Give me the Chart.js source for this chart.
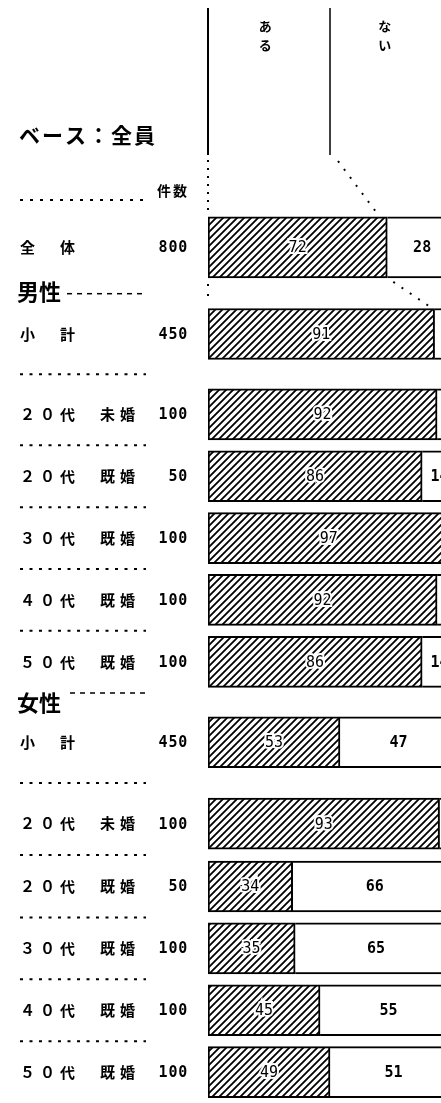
<!DOCTYPE html>
<html lang="ja">
<head>
<meta charset="utf-8">
<script src="https://cdn.jsdelivr.net/npm/chart.js@4"></script>
<style>
  html, body { margin: 0; padding: 0; overflow: hidden; background: #fff; }
  #wrap { position: relative; width: 470px; height: 1103px; }
</style>
</head>
<body>
<div id="wrap"><canvas id="chart"></canvas></div>
<script>
const rowLabels = ['全　体', '小　計', '２０代　未婚', '２０代　既婚', '３０代　既婚', '４０代　既婚', '５０代　既婚',
  '小　計', '２０代　未婚', '２０代　既婚', '３０代　既婚', '４０代　既婚', '５０代　既婚'];
const baseCounts = [800, 450, 100, 50, 100, 100, 100, 450, 100, 50, 100, 100, 100];
const aruValues = [72, 91, 92, 86, 97, 92, 86, 53, 93, 34, 35, 45, 49]; // ある
const naiValues = [28, 9, 8, 14, 3, 8, 14, 47, 7, 66, 65, 55, 51]; // ない
const rowGroups = [0, 1, 1, 1, 1, 1, 1, 2, 2, 2, 2, 2, 2];
const groupLabels = ['', '男性', '女性'];
const answerLabels = ['ある', 'ない'];
const rowSlots = [0, 4.2, 8.1, 11.1, 14.1, 17.1, 20.1, 24, 27.95, 31, 34, 37, 40];

const JP = '"Noto Sans CJK JP", sans-serif';
const NUM = '"DejaVu Sans Mono", monospace';

const makeHatch = () => {
  const c = document.createElement('canvas');
  c.width = 7;
  c.height = 7;
  const g = c.getContext('2d');
  g.fillStyle = '#fff';
  g.fillRect(0, 0, 7, 7);
  g.strokeStyle = '#000';
  g.lineWidth = 1.8;
  g.beginPath();
  g.moveTo(-1, 8); g.lineTo(8, -1);
  g.moveTo(-1, 1); g.lineTo(1, -1);
  g.moveTo(6, 8); g.lineTo(8, 6);
  g.stroke();
  return g.createPattern(c, 'repeat');
};
const hatch = makeHatch();

const points = (values, from, to) => values.slice(from, to).map((v, i) => ({ x: v, y: rowSlots[from + i] }));

const drawChars = (ctx, text, x, y, step) => {
  [...text].forEach((ch, i) => ctx.fillText(ch, x + i * step, y));
};

const dashLine = (ctx, x1, y1, x2, y2, dash, width) => {
  ctx.save();
  ctx.setLineDash(dash);
  ctx.lineWidth = width;
  ctx.strokeStyle = '#000';
  ctx.beginPath();
  ctx.moveTo(x1, y1);
  ctx.lineTo(x2, y2);
  ctx.stroke();
  ctx.restore();
};

const barLabels = {
  id: 'barLabels',
  afterDatasetsDraw(chart) {
    const { ctx } = chart;
    ctx.save();
    ctx.textAlign = 'center';
    ctx.textBaseline = 'middle';
    chart.data.datasets.forEach((ds, di) => {
      const hatched = di % 2 === 0;
      chart.getDatasetMeta(di).data.forEach((bar, i) => {
        const { x, base, y } = bar.getProps(['x', 'base', 'y'], true);
        const cx = (x + base) / 2;
        const txt = String(ds.data[i].x);
        ctx.font = (hatched ? '' : 'bold ') + '15px ' + NUM;
        if (hatched) {
          ctx.lineWidth = 4;
          ctx.strokeStyle = '#fff';
          ctx.strokeText(txt, cx, y + 1);
        }
        ctx.fillStyle = '#000';
        ctx.fillText(txt, cx, y + 1);
      });
    });
    ctx.restore();
  },
};

const sideText = {
  id: 'sideText',
  afterDraw(chart) {
    const { ctx } = chart;
    const xs = chart.scales.x;
    const ys = chart.scales.y;
    const yp = (i) => ys.getPixelForValue(rowSlots[i]);
    ctx.save();
    ctx.fillStyle = '#000';
    ctx.textBaseline = 'middle';
    ctx.textAlign = 'left';

    // header columns
    const x0 = xs.getPixelForValue(0);
    const xMid = xs.getPixelForValue(49);
    ctx.lineWidth = 2;
    ctx.beginPath();
    ctx.moveTo(x0, 8); ctx.lineTo(x0, 155);
    ctx.stroke();
    ctx.lineWidth = 1.5;
    ctx.beginPath();
    ctx.moveTo(xMid, 8); ctx.lineTo(xMid, 155);
    ctx.stroke();
    ctx.font = 'bold 13px ' + JP;
    ctx.textAlign = 'center';
    [23, 71].forEach((v, k) => {
      [...answerLabels[k]].forEach((ch, j) => ctx.fillText(ch, xs.getPixelForValue(v), 26 + j * 19));
    });
    ctx.textAlign = 'left';

    // connector dots
    const bar0 = chart.getDatasetMeta(0).data[0];
    const bar1 = chart.getDatasetMeta(2).data[0];
    const b0 = bar0.getProps(['y', 'height'], true);
    const b1 = bar1.getProps(['y', 'height'], true);
    const b0top = b0.y - b0.height / 2;
    const b0bot = b0.y + b0.height / 2;
    const b1top = b1.y - b1.height / 2;
    dashLine(ctx, x0, 160, x0, b0top - 2, [2, 6], 2);
    dashLine(ctx, xMid + 8, 161, xs.getPixelForValue(72) - 9, b0top - 2, [2, 8], 2);
    dashLine(ctx, x0, b0bot + 6, x0, b1top - 8, [2, 8], 2);
    dashLine(ctx, xs.getPixelForValue(72) + 6, b0bot + 4, xs.getPixelForValue(91) - 5, b1top - 2, [2, 8], 2);

    // title
    ctx.font = 'bold 21px ' + JP;
    drawChars(ctx, 'ベース：全員', 19, 135, 23);
    ctx.font = 'bold 14px ' + JP;
    drawChars(ctx, '件数', 157, 191, 16);
    dashLine(ctx, 20, 200, 146, 200, [3, 7], 2);

    // rows
    rowLabels.forEach((label, i) => {
      const y = yp(i);
      ctx.font = 'bold 15px ' + JP;
      drawChars(ctx, label, 20, y, 20);
      ctx.font = 'bold 15px ' + NUM;
      const cnt = String(baseCounts[i]);
      drawChars(ctx, cnt, 188 - cnt.length * 9.8, y + 1, 9.8);
      if (i > 0 && rowGroups[i] !== rowGroups[i - 1]) {
        const hy = (yp(i - 1) + y) / 2 + 1;
        ctx.font = 'bold 22px ' + JP;
        drawChars(ctx, groupLabels[rowGroups[i]], 17, hy, 22);
        const off = rowGroups[i] === 1 ? 2 : -10;
        dashLine(ctx, rowGroups[i] === 1 ? 67 : 70, hy + off, 146, hy + off, [5, 5], 1.5);
      }
      if (i + 1 < rowLabels.length && rowGroups[i + 1] === rowGroups[i] && rowGroups[i] > 0) {
        const sy = (y + yp(i + 1)) / 2;
        dashLine(ctx, 20, sy, 146, sy, [3, 6.5], 2);
      }
    });
    ctx.restore();
  },
};

const common = { borderColor: '#000', borderSkipped: false, stack: 's' };
const aruBorder = { top: 2, bottom: 2, left: 2, right: 2 };
const naiBorder = { top: 2, bottom: 2, left: 0, right: 2 };

const ctx = document.getElementById('chart').getContext('2d');
new Chart(ctx, {
  type: 'bar',
  data: {
    datasets: [
      { ...common, label: answerLabels[0], data: points(aruValues, 0, 1), backgroundColor: hatch, borderWidth: aruBorder, barThickness: 61 },
      { ...common, label: answerLabels[1], data: points(naiValues, 0, 1), backgroundColor: '#fff', borderWidth: naiBorder, barThickness: 61 },
      { ...common, label: answerLabels[0], data: points(aruValues, 1), backgroundColor: hatch, borderWidth: aruBorder, barThickness: 51 },
      { ...common, label: answerLabels[1], data: points(naiValues, 1), backgroundColor: '#fff', borderWidth: naiBorder, barThickness: 51 },
    ],
  },
  options: {
    indexAxis: 'y',
    responsive: true,
    maintainAspectRatio: false,
    animation: false,
    layout: { padding: { left: 208, right: 13, top: 0, bottom: 0 } },
    scales: {
      x: { type: 'linear', min: 0, max: 100, stacked: true, display: false },
      y: { type: 'linear', min: -12, max: 41.5, reverse: true, offset: false, display: false },
    },
    plugins: { legend: { display: false }, tooltip: { enabled: false }, title: { display: false } },
  },
  plugins: [barLabels, sideText],
});
</script>
</body>
</html>
